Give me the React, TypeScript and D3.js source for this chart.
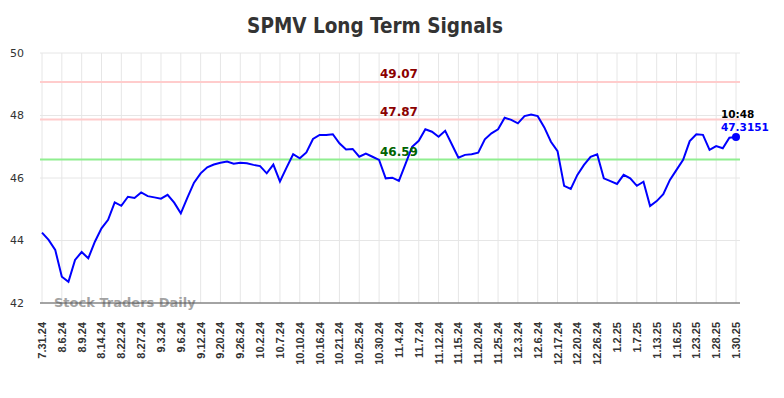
import React, { useEffect, useRef } from "react";
import * as d3 from "d3";

const tickLabels = [
  "7.31.24", "8.6.24", "8.9.24", "8.14.24", "8.22.24", "8.27.24", "9.3.24", "9.6.24",
  "9.12.24", "9.20.24", "9.26.24", "10.2.24", "10.7.24", "10.10.24", "10.16.24", "10.21.24",
  "10.25.24", "10.30.24", "11.4.24", "11.7.24", "11.12.24", "11.15.24", "11.20.24", "11.25.24",
  "12.3.24", "12.6.24", "12.17.24", "12.20.24", "12.26.24", "1.2.25", "1.7.25", "1.13.25",
  "1.16.25", "1.23.25", "1.28.25", "1.30.25",
];

// closing prices, 3 points between each labelled tick
const prices = [
  44.25, 44.02, 43.7, 42.84, 42.68, 43.38, 43.63, 43.43, 43.96, 44.39,
  44.66, 45.22, 45.11, 45.4, 45.36, 45.54, 45.42, 45.38, 45.34, 45.46,
  45.21, 44.87, 45.37, 45.85, 46.15, 46.34, 46.43, 46.49, 46.53, 46.46,
  46.49, 46.47, 46.42, 46.38, 46.15, 46.43, 45.89, 46.33, 46.76, 46.63,
  46.82, 47.25, 47.38, 47.38, 47.4, 47.11, 46.91, 46.93, 46.68, 46.78,
  46.68, 46.58, 45.99, 46.01, 45.91, 46.45, 47.0, 47.19, 47.56, 47.48,
  47.32, 47.51, 47.08, 46.65, 46.74, 46.76, 46.81, 47.24, 47.43, 47.56,
  47.93, 47.86, 47.75, 47.98, 48.03, 47.98, 47.62, 47.16, 46.86, 45.75,
  45.65, 46.1, 46.42, 46.68, 46.76, 45.99, 45.9, 45.81, 46.1, 45.99,
  45.75, 45.88, 45.1, 45.26, 45.48, 45.94, 46.26, 46.58, 47.18, 47.4,
  47.38, 46.9, 47.02, 46.95, 47.29, 47.3151,
];

const yTicks = [42, 44, 46, 48, 50];

const signalLevels = [49.07, 47.87];
const supportLevels = [46.59];

const lastTime = "10:48";

const App = () => {
  const chartRef = useRef<SVGSVGElement>(null);

  useEffect(() => {
    const width = 784;
    const height = 398;
    const left = 40;
    const right = 740;
    const top = 53;
    const bottom = 303;
    const step = 3;

    const svg = d3.select(chartRef.current);
    svg.selectAll("*").remove();

    const x = d3.scaleLinear().domain([0, prices.length - 1]).range([42, 736]);
    const y = d3.scaleLinear().domain([42, 50]).range([bottom, top]);

    svg.attr("width", width).attr("height", height);

    svg
      .append("text")
      .attr("x", 375)
      .attr("y", 33)
      .attr("text-anchor", "middle")
      .attr("font-family", "DejaVu Sans Condensed, DejaVu Sans")
      .attr("font-weight", "bold")
      .attr("font-size", 20.5)
      .attr("fill", "#333")
      .text("SPMV Long Term Signals");

    // horizontal grid
    svg
      .append("g")
      .selectAll("line")
      .data(yTicks)
      .join("line")
      .attr("x1", left)
      .attr("x2", right)
      .attr("y1", (d) => y(d))
      .attr("y2", (d) => y(d))
      .attr("stroke", "#e6e6e6");

    // vertical grid
    svg
      .append("g")
      .selectAll("line")
      .data(tickLabels)
      .join("line")
      .attr("x1", (d, i) => x(i * step))
      .attr("x2", (d, i) => x(i * step))
      .attr("y1", top)
      .attr("y2", bottom)
      .attr("stroke", "#e6e6e6");

    svg
      .append("g")
      .selectAll("text")
      .data(yTicks)
      .join("text")
      .attr("x", 24)
      .attr("y", (d) => y(d))
      .attr("dy", "0.35em")
      .attr("text-anchor", "end")
      .attr("font-family", "DejaVu Sans")
      .attr("font-size", 11)
      .attr("fill", "#333")
      .text((d) => d);

    svg
      .append("g")
      .selectAll("text")
      .data(tickLabels)
      .join("text")
      .attr("transform", (d, i) => `translate(${x(i * step) + 4},322) rotate(-90)`)
      .attr("text-anchor", "end")
      .attr("font-family", "Liberation Sans")
      .attr("font-weight", "bold")
      .attr("font-size", 11)
      .attr("fill", "#333")
      .text((d) => d);

    svg
      .append("text")
      .attr("x", 54)
      .attr("y", 307)
      .attr("font-family", "DejaVu Sans")
      .attr("font-weight", "bold")
      .attr("font-size", 13)
      .attr("fill", "#999")
      .attr("opacity", 0.9)
      .text("Stock Traders Daily");

    svg
      .append("line")
      .attr("x1", left)
      .attr("x2", right)
      .attr("y1", bottom)
      .attr("y2", bottom)
      .attr("stroke", "#555")
      .attr("stroke-width", 1);

    svg
      .append("g")
      .selectAll("line")
      .data(signalLevels)
      .join("line")
      .attr("x1", left)
      .attr("x2", right)
      .attr("y1", (d) => y(d))
      .attr("y2", (d) => y(d))
      .attr("stroke", "#ffcccc")
      .attr("stroke-width", 2);

    svg
      .append("g")
      .selectAll("line")
      .data(supportLevels)
      .join("line")
      .attr("x1", left)
      .attr("x2", right)
      .attr("y1", (d) => y(d))
      .attr("y2", (d) => y(d))
      .attr("stroke", "#90ee90")
      .attr("stroke-width", 2);

    const line = d3
      .line<number>()
      .x((d, i) => x(i))
      .y((d) => y(d));

    svg
      .append("path")
      .datum(prices)
      .attr("d", line)
      .attr("fill", "none")
      .attr("stroke", "#0000ff")
      .attr("stroke-width", 2);

    const labels = [
      ...signalLevels.map((v) => ({ v, c: "#8b0000" })),
      ...supportLevels.map((v) => ({ v, c: "#006400" })),
    ];
    svg
      .append("g")
      .selectAll("text")
      .data(labels)
      .join("text")
      .attr("x", 399)
      .attr("y", (d) => y(d.v) - 4)
      .attr("text-anchor", "middle")
      .attr("font-family", "DejaVu Sans")
      .attr("font-weight", "bold")
      .attr("font-size", 12)
      .attr("fill", (d) => d.c)
      .text((d) => d.v.toFixed(2));

    const last = prices.length - 1;
    svg
      .append("circle")
      .attr("cx", x(last))
      .attr("cy", y(prices[last]))
      .attr("r", 4)
      .attr("fill", "#0000ff");

    svg
      .append("text")
      .attr("x", 721)
      .attr("y", 118)
      .attr("font-family", "DejaVu Sans")
      .attr("font-weight", "bold")
      .attr("font-size", 10.5)
      .attr("fill", "#000")
      .text(lastTime);

    svg
      .append("text")
      .attr("x", 721)
      .attr("y", 131)
      .attr("font-family", "DejaVu Sans")
      .attr("font-weight", "bold")
      .attr("font-size", 10.5)
      .attr("fill", "#0000ff")
      .text(prices[last].toFixed(4));
  }, [chartRef]);

  return <svg ref={chartRef} style={{ position: "absolute", left: 0, top: 0 }} />;
};

export default App;
